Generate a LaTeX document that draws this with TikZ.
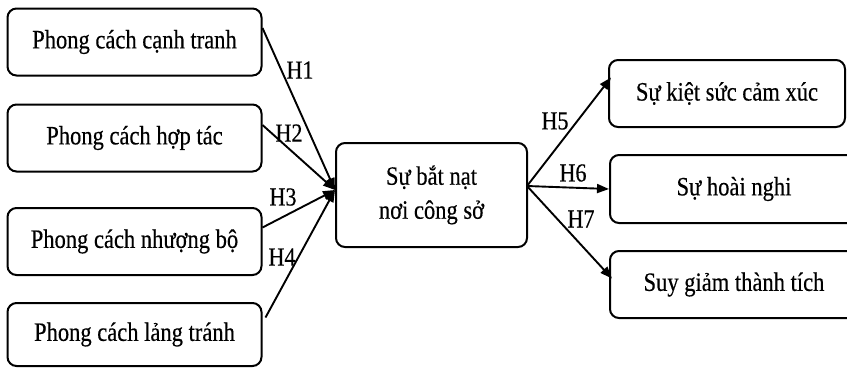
\documentclass[tikz,border=0pt]{standalone}
\usepackage{fontspec}
\setmainfont{Liberation Serif}[FakeStretch=0.85, FakeBold=0.4]
\usetikzlibrary{arrows.meta}
\tikzset{
  box/.style={draw, line width=2pt, rounded corners=9pt, align=center,
    inner sep=0pt, font=\fontsize{26.5}{31}\selectfont},
  lbox/.style={box, minimum width=254pt, minimum height=67pt},
  rbox/.style={box, minimum width=248pt, minimum height=67pt},
  hyp/.style={font=\fontsize{26}{30}\selectfont, inner sep=0pt},
  link/.style={line width=1.9pt, -{Triangle[length=12pt,width=9pt]}},
}
\begin{document}
\begin{tikzpicture}[x=1pt, y=-1pt]
\useasboundingbox (0,0) rectangle (847,368);
\fill[white] (0,0) rectangle (847,368);
\clip (0,0) rectangle (847,368);

% antecedents: conflict-handling styles
\node[lbox] (b1) at (134.5,42)  {Phong cách cạnh tranh};
\node[lbox] (b2) at (134.5,138) {Phong cách hợp tác};
\node[lbox] (b3) at (134.5,241.5) {Phong cách nhượng bộ};
\node[lbox, minimum height=63pt] (b4) at (134.5,334.5) {Phong cách lảng tránh};

% mediator
\node[box, minimum width=191pt, minimum height=104pt] (c) at (431.5,195)
  {Sự bắt nạt\\[3pt]nơi công sở};

% outcomes
\node[box, minimum width=236pt, minimum height=67pt] (b5) at (727,93.5) {Sự kiệt sức cảm xúc};
\node[rbox, minimum height=68pt] (b6) at (734,189) {Sự hoài nghi};
\node[rbox] (b7) at (734,284.5) {Suy giảm thành tích};

\coordinate (hub) at (335,190);
\coordinate (out) at (527,186);

\draw[link] ([yshift=14pt]b1.east) -- (hub);
\draw[link] ([yshift=13pt]b2.east) -- (hub);
\draw[link] ([yshift=14pt]b3.east) -- (hub);
\draw[link] ([yshift=17pt,xshift=3pt]b4.east) -- (hub);

\draw[link] (out) -- ([yshift=16pt,xshift=3pt]b5.west);
\draw[link] (out) -- (b6.west);
\draw[link] (out) -- ([yshift=6pt,xshift=3pt]b7.west);

\node[hyp] (h1) at (300,70)  {H1};
\node[hyp] (h2) at (289,133) {H2};
\node[hyp] (h3) at (283,197) {H3};
\node[hyp] (h4) at (282,257) {H4};
\node[hyp] (h5) at (555,121) {H5};
\node[hyp] (h6) at (573,173) {H6};
\node[hyp] (h7) at (581,219) {H7};
\end{tikzpicture}
\end{document}
